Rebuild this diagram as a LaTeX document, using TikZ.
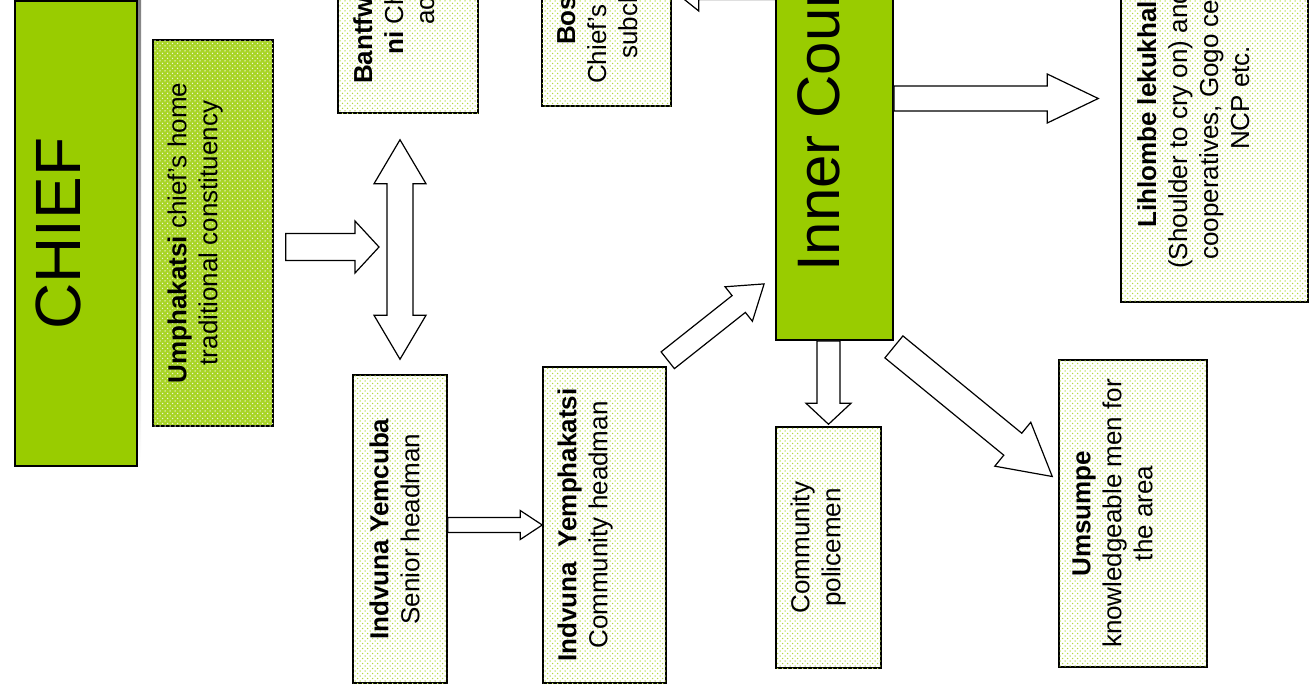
\documentclass[tikz,border=0pt]{standalone}
\usepackage{fontspec}
\setmainfont{Liberation Sans}
\usetikzlibrary{calc,patterns}
\definecolor{leaf}{HTML}{99CC00}
\definecolor{shade}{HTML}{B4B4B4}
\pgfdeclarepatternformonly{seeds}{\pgfpoint{-1pt}{-1pt}}{\pgfpoint{5pt}{5pt}}{\pgfpoint{5pt}{5pt}}{%
  \pgfpathcircle{\pgfpoint{0pt}{0pt}}{0.75pt}
  \pgfpathcircle{\pgfpoint{2.5pt}{2.5pt}}{0.75pt}
  \pgfusepath{fill}}
\tikzset{
  chiefbox/.style={draw, line width=1.8pt, rectangle, inner sep=0pt, fill=leaf},
  meshbox/.style={draw, line width=1.5pt, rectangle, inner sep=0pt, fill=leaf!85!white, postaction={pattern=seeds, pattern color=white!85!leaf}},
  cell/.style={draw, line width=1.5pt, rectangle, inner sep=0pt, fill=white, postaction={pattern=seeds, pattern color=leaf!75}},
  lab/.style={rotate=90, anchor=north, inner sep=0pt, align=center, font=\fontsize{26}{31}\selectfont},
  cutlab/.style={rotate=90, anchor=north west, inner sep=0pt, align=left, font=\fontsize{26}{31}\selectfont},
  biglab/.style={rotate=90, anchor=north, inner sep=0pt, font=\fontsize{64}{70}\selectfont},
  fat/.style={draw, fill=white, line width=1.2pt, line join=miter},
}
% hollow block arrow: from, to, shaft half width, head half width, head length
\newcommand{\fatarrow}[5]{%
  \draw[fat] let \p1=#1, \p2=#2, \n1={atan2((\y2)-(\y1),(\x2)-(\x1))}, \n2={veclen((\x2)-(\x1),(\y2)-(\y1))-#5} in
    ($(\p1)+(\n1+90:#3pt)$) -- ($(\p1)+(\n1:\n2)+(\n1+90:#3pt)$) -- ($(\p1)+(\n1:\n2)+(\n1+90:#4pt)$)
    -- (\p2) -- ($(\p1)+(\n1:\n2)+(\n1-90:#4pt)$) -- ($(\p1)+(\n1:\n2)+(\n1-90:#3pt)$) -- ($(\p1)+(\n1-90:#3pt)$) -- cycle;}
% same, with a head at both ends
\newcommand{\fatboth}[5]{%
  \draw[fat] let \p1=#1, \p2=#2, \n1={atan2((\y2)-(\y1),(\x2)-(\x1))}, \n2={veclen((\x2)-(\x1),(\y2)-(\y1))-#5} in
    (\p1) -- ($(\p1)+(\n1:#5pt)+(\n1+90:#4pt)$) -- ($(\p1)+(\n1:#5pt)+(\n1+90:#3pt)$)
    -- ($(\p1)+(\n1:\n2)+(\n1+90:#3pt)$) -- ($(\p1)+(\n1:\n2)+(\n1+90:#4pt)$) -- (\p2)
    -- ($(\p1)+(\n1:\n2)+(\n1-90:#4pt)$) -- ($(\p1)+(\n1:\n2)+(\n1-90:#3pt)$)
    -- ($(\p1)+(\n1:#5pt)+(\n1-90:#3pt)$) -- ($(\p1)+(\n1:#5pt)+(\n1-90:#4pt)$) -- cycle;}

\begin{document}
\begin{tikzpicture}[x=1pt, y=-1pt]
  \useasboundingbox (0,0) rectangle (1311,691);
  \clip (0,0) rectangle (1311,691);

  % chief and home constituency
  \fill[shade] (19,-3) rectangle (141,462);
  \node[chiefbox, minimum width=122, minimum height=465] (chief) at (76,233.5) {};
  \node[biglab] (chief-t) at ([xshift=22]chief.west) {CHIEF};
  \node[meshbox, minimum width=120, minimum height=386] (umph) at (213,233) {};
  \node[lab] (umph-t) at ([xshift=15]umph.west) {\textbf{Umphakatsi} chief’s home\\traditional constituency};

  % boxes cut by the top edge
  \node[cell, minimum width=140, minimum height=173] (bantfw) at (408,26.5) {};
  \node[cutlab] (bantfw-t) at (353,84) {\textbf{Bantfw}\\\hspace*{29pt}\textbf{ni} Ch\\\hspace*{59pt}ac};
  \node[cell, minimum width=129, minimum height=166] (bos) at (606.5,23) {};
  \node[cutlab] (bos-t) at (557,84) {\hspace*{39pt}\textbf{Bos}\\Chief’s\\\hspace*{25pt}subcl};
  \node[chiefbox, minimum width=117, minimum height=490] (inner) at (834.5,95) {};
  \node[biglab, font=\fontsize{60}{66}\selectfont] (inner-t) at ([xshift=21]inner.west) {Inner Council};
  \node[cell, minimum width=187, minimum height=362] (lihl) at (1214.5,121) {};
  \node[cutlab] (lihl-t) at (1137,269) {\hspace*{41pt}\textbf{Lihlombe lekukhal}\\(Shoulder to cry on) and\\\hspace*{9pt}cooperatives, Gogo ce\\\hspace*{119pt}NCP etc.};

  % lower row
  \node[cell, minimum width=94, minimum height=308] (indv) at (400,529) {};
  \node[lab] (indv-t) at ([xshift=17]indv.west) {\textbf{Indvuna Yemcuba}\\Senior headman};
  \node[cell, minimum width=123, minimum height=316] (yemph) at (604.5,525) {};
  \node[lab] (yemph-t) at ([xshift=15]yemph.west) {\textbf{Indvuna~~Yemphakatsi}\\Community headman};
  \node[cell, minimum width=105, minimum height=241] (police) at (828.5,547.5) {};
  \node[lab] (police-t) at ([xshift=15]police.west) {Community\\policemen};
  \node[cell, minimum width=148, minimum height=307] (ums) at (1133,513.5) {};
  \node[lab] (ums-t) at ([xshift=14]ums.west) {\textbf{Umsumpe}\\knowledgeable men for\\the area};

  % block arrows
  \fatarrow{($(umph.east)+(12,14)$)}{($(indv.north |- umph.east)+(-21,14)$)}{13.5}{26}{24}
  \fatboth{($(bantfw.south -| indv.north)+(0,26)$)}{($(indv.north)+(0,-15)$)}{13}{26}{44}
  \fatarrow{(indv.east |- yemph.west)}{(yemph.west)}{7.5}{14.5}{22}
  \fatarrow{($(yemph.north east)+(1,-6)$)}{($(inner.south west)+(-11,-57)$)}{10.7}{22}{32}
  \fatarrow{($(inner.east)+(0,3.5)$)}{($(lihl.west |- inner.east)+(-22,3.5)$)}{12.5}{24.5}{51}
  \fatarrow{($(inner.west)+(0,-108)$)}{($(bos.east |- inner.west)+(-3,-108)$)}{12.5}{24}{30}
  \fatarrow{(police.north |- inner.south)}{($(police.north)+(0,-2)$)}{11.5}{22.5}{21}
  \fatarrow{($(inner.south east)+(0,6)$)}{($(ums.west)+(-6,-37)$)}{14.2}{28.4}{51}
\end{tikzpicture}
\end{document}
